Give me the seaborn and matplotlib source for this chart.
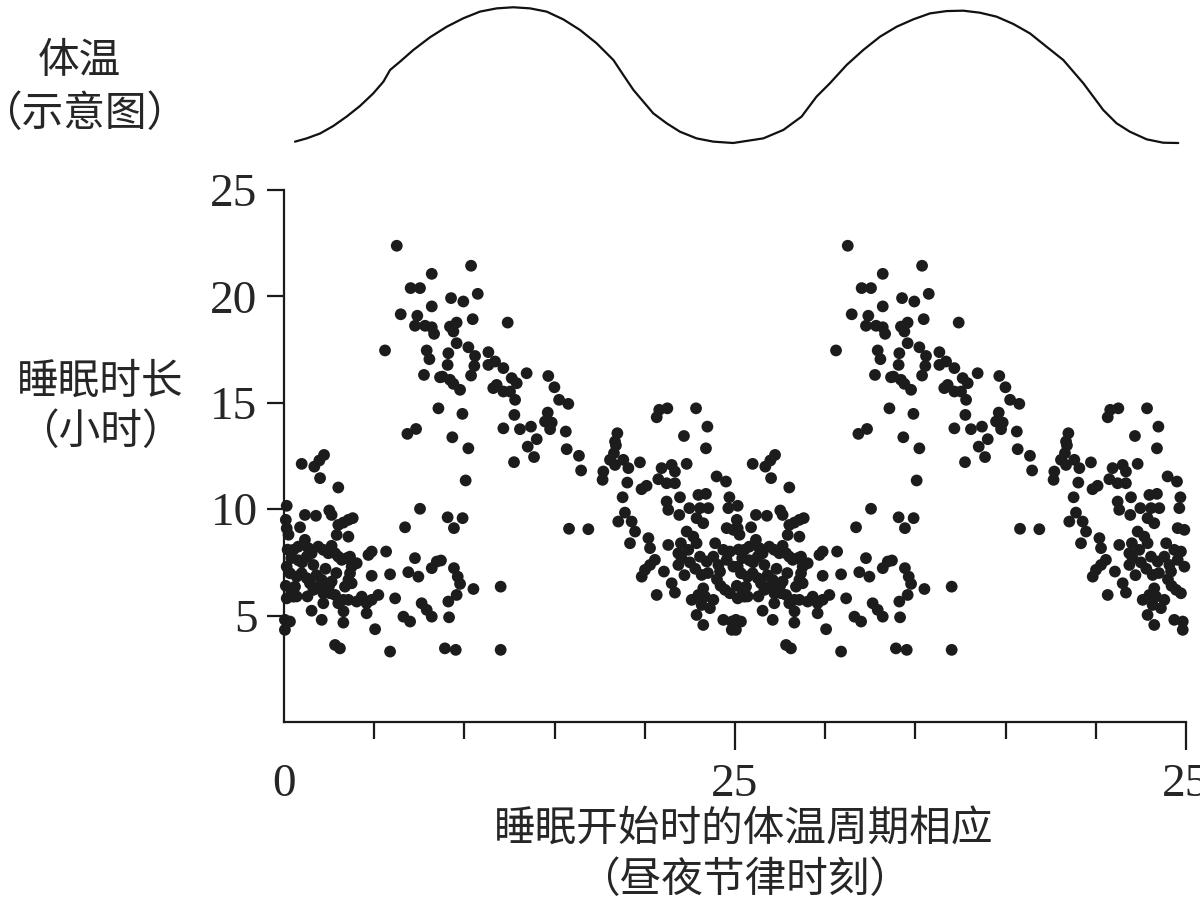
import numpy as np
import pandas as pd
import matplotlib
matplotlib.use("Agg")
import matplotlib.pyplot as plt
import seaborn as sns

# ---- data: sleep onset phase (0-25, double plotted) vs sleep duration (h) ----
onset_phase = [
    0.98, 1.68, 1.96, 2.22, 2.0, 3.01, 0.15, 1.16, 1.77, 2.51, 2.64, 0.89, 0.15, 3.01, 3.29, 3.57, 3.81, 2.92, 3.57,
    7.54, 6.71, 0.52, 0.79, 1.16, 1.35, 1.26, 1.53, 1.63, 1.9, 2.18, 2.46, 2.64, 2.83, 3.01, 3.2, 3.48, 3.66, 3.75,
    4.03, 3.66, 3.57, 3.75, 3.38, 4.68, 4.86, 5.66, 7.26, 8.19, 8.47, 0.15, 0.33, 0.7, 0.98, 1.26, 1.44, 0.61, 1.63,
    1.9, 2.09, 2.18, 2.64, 2.55, 2.83, 3.01, 2.18, 3.29, 3.57, 4.03, 4.31, 4.58, 4.86, 5.23, 0.52, 0.15, 6.16, 4.86,
    5.88, 6.89, 7.45, 7.63, 7.91, 8.19, 1.53, 2.09, 3.29, 4.58, 6.62, 6.99, 5.05, 0.33, 0.05, 2.83, 3.1, 5.88,
    0.1, 0.25, 0.2, 0.1, 0.4, 0.7, 0.05, 1.0, 2.3, 2.9, 1.8, 0.8, 2.5, 1.3, 3.3, 0.4,
    6.25, 8.19, 7.02, 7.54, 8.19, 6.47, 7.39, 7.26, 7.82, 8.19, 8.32, 5.6, 7.91, 8.06, 7.76, 8.56, 7.32, 6.84, 8.65,
    10.37, 9.26, 9.94, 10.74, 10.46, 12.4, 9.2, 9.57, 9.39, 9.57, 10.22, 9.11, 10.59, 11.33, 9.07, 10.55, 11.33,
    11.7, 12.16, 10.37, 8.78, 9.2, 9.39, 9.76, 12.62, 12.9, 11.6, 11.79, 12.16, 12.53, 12.81, 13.45, 14.65, 14.99,
    15.25, 15.76, 9.89, 12.77, 12.16, 13.08, 13.69, 14.47, 14.62, 14.84, 14.75, 15.62, 14.01, 9.33, 10.22, 13.51,
    12.75, 13.86, 15.67, 16.35, 16.47, 10.07, 9.07, 9.9, 9.42, 15.8, 16.87, 8.7, 9.42, 9.63, 9.76, 10.5, 12.01,
    9.57, 9.11, 9.15, 8.92, 9.52, 12.01,
    21.25, 20.8, 20.66, 22.84, 23.47, 22.17, 18.48, 18.35, 23.39,
    18.4, 18.29, 18.07, 18.35, 18.81, 19.09, 17.7, 17.66, 19.73, 20.93, 21.49, 21.67, 22.32, 20.75, 21.21, 21.67,
    19.03, 19.82, 20.1, 18.77, 21.21, 21.95, 22.97, 23.39, 23.98, 24.5, 21.3, 21.91, 22.47, 23.06, 23.52, 24.69,
    24.63, 18.9, 18.53, 19.27, 19.46, 19.18, 20.2, 20.29, 21.3, 22.87, 23.24, 24.54, 24.91, 22.32, 22.69, 22.87,
    22.41, 21.86, 22.04, 21.86, 23.06, 23.43, 23.8, 24.08, 24.35, 24.72, 24.54, 24.91, 24.17, 20.56, 20.29, 20.01,
    19.83, 21.06, 23.15, 21.49, 21.67, 20.66, 23.24, 22.97, 22.6, 23.34, 23.8, 23.15, 23.61, 22.87, 23.24, 24.35,
    24.82, 24.82, 24.45, 24.72, 22.5, 22.8, 23.5, 24.0, 22.2, 23.9, 24.2, 22.0,
]
sleep_hours = [
    12.13, 12.0, 12.29, 12.55, 11.46, 11.02, 10.16, 9.73, 9.69, 9.94, 9.73, 9.15, 9.1, 9.26, 9.37, 9.5, 9.58, 8.79, 8.71,
    10.02, 9.15, 8.09, 8.24, 8.56, 8.17, 7.77, 7.93, 7.38, 8.24, 8.09, 7.93, 8.28, 7.93, 7.77, 7.62, 7.7, 7.77, 7.3,
    7.46, 6.99, 6.68, 6.52, 6.36, 7.85, 8.01, 8.01, 7.7, 7.23, 7.54, 7.3, 6.99, 6.83, 6.99, 6.76, 6.52, 6.36, 6.21,
    6.36, 6.68, 6.05, 6.6, 6.05, 5.97, 5.58, 5.58, 5.74, 5.74, 5.66, 5.89, 5.58, 5.74, 5.97, 5.89, 5.81, 5.81, 6.87,
    6.94, 7.04, 6.83, 5.58, 5.27, 4.95, 5.23, 4.8, 4.67, 5.11, 4.95, 4.72, 4.36, 4.72, 4.33, 3.62, 3.46, 3.31,
    9.5, 8.8, 8.1, 6.4, 6.0, 5.9, 4.8, 7.5, 7.2, 7.0, 6.9, 7.6, 6.4, 5.9, 5.2, 7.7,
    22.38, 21.06, 20.39, 20.39, 19.53, 19.16, 19.09, 18.62, 18.62, 18.55, 18.24, 17.46, 17.46, 17.05, 16.31, 14.74,
    13.77, 13.54, 16.2,
    21.44, 19.92, 19.76, 20.12, 18.93, 18.77, 18.58, 18.77, 18.35, 17.8, 17.61, 17.33, 17.2, 17.38, 16.78, 16.73,
    16.78, 16.94, 16.63, 16.28, 16.23, 16.08, 15.89, 15.61, 16.16, 15.92, 15.69, 15.84, 15.53, 15.53, 15.14, 16.39,
    16.26, 15.73, 15.14, 14.95, 14.48, 14.43, 13.8, 13.76, 13.88, 14.12, 14.54, 14.07, 13.76, 13.65, 13.29, 13.38,
    12.86, 12.94,
    12.21, 12.45, 12.82, 12.51, 11.82, 11.35, 9.62, 9.58, 9.11, 9.08, 9.06, 7.59, 7.23, 6.83, 6.49, 6.25, 6.36,
    5.97, 5.66, 4.92, 3.46, 3.39, 3.39,
    14.74, 14.67, 14.32, 14.74, 13.88, 13.44, 13.57, 13.18, 12.86,
    13.0, 12.63, 12.32, 12.08, 12.32, 11.93, 11.77, 11.38, 12.2, 11.93, 12.08, 11.77, 12.13, 11.41, 11.22, 11.22,
    11.25, 10.94, 11.1, 10.56, 10.36, 10.56, 10.67, 10.72, 11.54, 11.3, 9.97, 9.73, 10.05, 10.05, 10.05, 10.56,
    10.05, 9.84, 9.42, 9.42, 8.95, 8.4, 8.64, 8.17, 8.32, 9.58, 9.34, 9.11, 9.03, 8.95, 8.71, 8.4,
    8.09, 7.93, 7.7, 7.38, 7.77, 7.54, 7.77, 7.38, 8.09, 8.01, 7.62, 7.3, 7.07, 7.62, 7.38, 7.15,
    6.83, 7.07, 6.91, 6.52, 6.08, 5.97, 6.28, 5.97, 5.74, 5.89, 5.74, 5.5, 5.35, 5.03, 4.56, 4.8,
    4.33, 4.72, 6.21, 6.05, 7.5, 7.2, 7.0, 6.7, 6.9, 8.4, 6.4, 8.4,
]

# ---- body temperature schematic curve (relative units) ----
temp_x = [0.61, 1.26, 2.0, 2.73, 3.47, 4.21, 4.95, 5.51, 5.88, 6.43, 7.17, 8.09, 9.02, 9.94, 10.86, 11.79,
          12.71, 13.64, 14.56, 15.48, 16.41, 17.33, 18.26, 18.81, 19.37, 19.92, 20.47, 21.21, 21.95, 22.87,
          23.8, 24.9, 26.57, 27.68, 28.69, 29.52, 30.26, 31.19, 32.11, 33.04, 33.96, 34.88, 35.81, 36.73,
          37.65, 38.58, 39.5, 40.43, 41.35, 42.27, 43.2, 44.31, 44.86, 45.41, 46.15, 46.89, 47.82, 48.74, 49.57]
temp_rel = [0.010, 0.034, 0.07, 0.125, 0.194, 0.272, 0.365, 0.451, 0.537, 0.598, 0.684, 0.777, 0.855, 0.917,
            0.966, 0.990, 0.998, 0.99, 0.966, 0.909, 0.831, 0.733, 0.610, 0.5, 0.39, 0.304, 0.218, 0.145,
            0.083, 0.034, 0.010, 0.0, 0.034, 0.096, 0.194, 0.341, 0.439, 0.574, 0.684, 0.782, 0.855, 0.909,
            0.953, 0.97, 0.973, 0.958, 0.929, 0.875, 0.806, 0.708, 0.61, 0.439, 0.341, 0.243, 0.145, 0.083,
            0.027, 0.002, 0.0]

y_ticks = [5, 10, 15, 20, 25]
x_major = [0, 25, 50]
x_major_labels = ["0", "25", "25"]
x_minor = [5, 10, 15, 20, 30, 35, 40, 45]

sns.set_style("white")
plt.rcParams['font.family'] = ['Noto Sans CJK SC', 'DejaVu Sans']

df = pd.DataFrame({
    "phase": np.concatenate([np.array(onset_phase), np.array(onset_phase) + 25]),
    "hours": np.concatenate([np.array(sleep_hours), np.array(sleep_hours)]),
})
df_temp = pd.DataFrame({"x": temp_x, "t": temp_rel})

fig = plt.figure(figsize=(12, 9), dpi=100)
W, H = 1200, 900
left = 284 / W
width = (1186 - 284) / W

# main scatter axes
ax = fig.add_axes([left, (H - 722) / H, width, (722 - 190) / H])
sns.scatterplot(data=df, x="phase", y="hours", ax=ax, s=72, color="#1c1c1c",
                edgecolor="none", linewidth=0, legend=False)
ax.collections[-1].set_clip_on(False)
ax.set_xlim(0, 50)
ax.set_ylim(0, 25)
ax.set_xlabel("")
ax.set_ylabel("")
for s in ["top", "right"]:
    ax.spines[s].set_visible(False)
for s in ["left", "bottom"]:
    ax.spines[s].set_linewidth(1.6)
    ax.spines[s].set_color("#1a1a1a")

tick_font = dict(family="Liberation Serif", fontsize=34)
ax.set_yticks(y_ticks)
ax.set_yticklabels([str(v) for v in y_ticks], **tick_font)
ax.tick_params(axis="y", direction="out", length=12, width=1.6, color="#1a1a1a", pad=7, left=True)
ax.set_xticks(x_major)
ax.set_xticklabels(x_major_labels, **tick_font)
ax.set_xticks(x_minor, minor=True)
ax.tick_params(axis="x", which="major", direction="out", length=20, width=1.6, color="#1a1a1a", pad=10, bottom=True)
ax.tick_params(axis="x", which="minor", direction="out", length=12.5, width=1.6, color="#1a1a1a", bottom=True)
ax.xaxis.get_major_ticks()[0].tick1line.set_visible(False)

# temperature schematic axes
axt = fig.add_axes([left, (H - 143) / H, width, (143 - 7) / H])
sns.lineplot(data=df_temp, x="x", y="t", ax=axt, color="#111111", linewidth=1.6, sort=False)
axt.set_xlim(0, 50)
axt.set_ylim(0, 1)
axt.axis("off")
for ln in axt.lines:
    ln.set_clip_on(False)

cjk = 30
fig.text(79 / W, 1 - 62 / H, "体温", ha="center", va="center", fontsize=cjk)
fig.text(84 / W, 1 - 115 / H, "（示意图）", ha="center", va="center", fontsize=cjk)
fig.text(100 / W, 1 - 382 / H, "睡眠时长", ha="center", va="center", fontsize=cjk)
fig.text(100 / W, 1 - 432 / H, "（小时）", ha="center", va="center", fontsize=cjk)
fig.text(744 / W, 1 - 830 / H, "睡眠开始时的体温周期相应", ha="center", va="center", fontsize=cjk)
fig.text(745 / W, 1 - 880 / H, "（昼夜节律时刻）", ha="center", va="center", fontsize=cjk)

fig.savefig("out.png", dpi=100)
